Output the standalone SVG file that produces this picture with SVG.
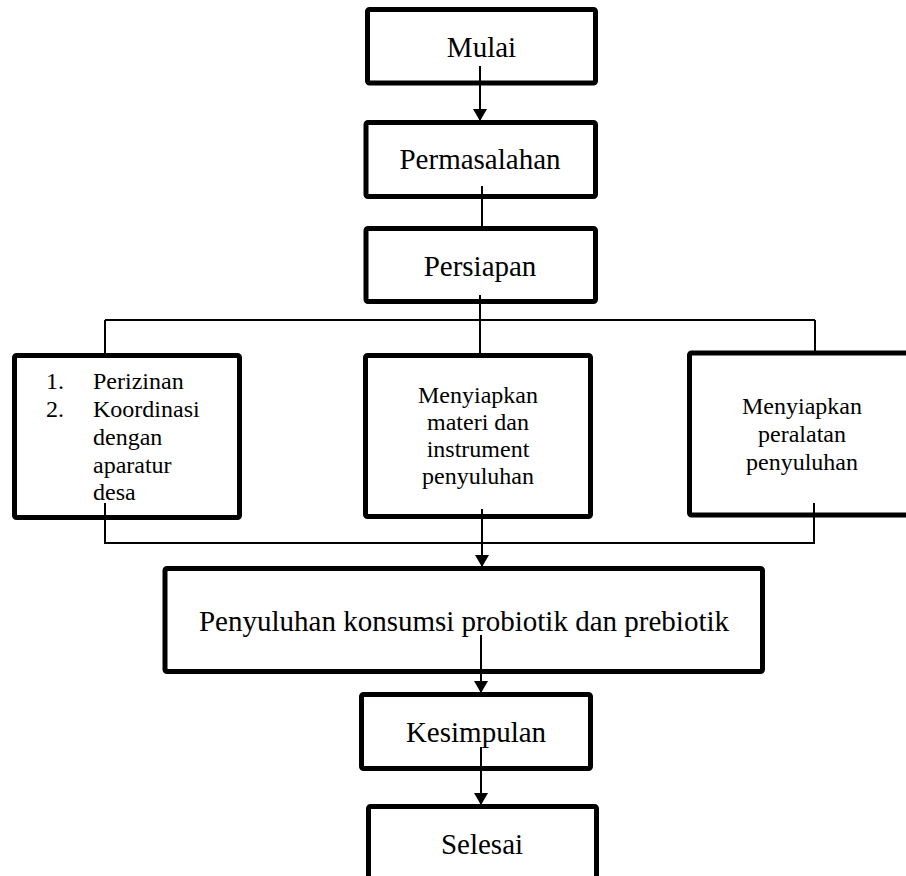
<svg xmlns="http://www.w3.org/2000/svg" width="906" height="876" viewBox="0 0 906 876">
<style>
.box{fill:#fff;stroke:#000;stroke-width:5;stroke-linejoin:round}
.lg{font-family:"Liberation Serif","Times New Roman",serif;font-size:29px;fill:#000;text-anchor:middle}
.sm{font-family:"Liberation Serif","Times New Roman",serif;font-size:24px;fill:#000}
.c{text-anchor:middle}
.conn{fill:none;stroke:#000;stroke-width:2}
</style>
<defs>
<marker id="ah" markerUnits="userSpaceOnUse" markerWidth="13" markerHeight="15" refX="12" refY="7" orient="auto">
<path d="M0,0 L12,7 L0,14 z" fill="#000"/>
</marker>
</defs>
<rect width="906" height="876" fill="#fff"/>
<g id="mulai"><rect class="box" x="367.5" y="9.5" width="228" height="73.5" rx="2"/><text class="lg" x="481.5" y="57">Mulai</text></g>
<g id="permasalahan"><rect class="box" x="366" y="122.5" width="229.5" height="74" rx="2"/><text class="lg" x="480" y="169">Permasalahan</text></g>
<g id="persiapan"><rect class="box" x="366" y="228.5" width="229.5" height="73" rx="2"/><text class="lg" x="480" y="276">Persiapan</text></g>
<g id="perizinan"><rect class="box" x="14.5" y="355.5" width="225" height="162" rx="2"/>
<text class="sm" x="46" y="389">1.</text><text class="sm" x="93" y="389">Perizinan</text>
<text class="sm" x="46" y="417">2.</text><text class="sm" x="93" y="417">Koordinasi</text>
<text class="sm" x="93" y="445">dengan</text>
<text class="sm" x="93" y="473">aparatur</text>
<text class="sm" x="93" y="500">desa</text></g>
<g id="materi"><rect class="box" x="365.5" y="355.5" width="225" height="161" rx="2"/>
<text class="sm c" x="478" y="403">Menyiapkan</text>
<text class="sm c" x="478" y="430">materi dan</text>
<text class="sm c" x="478" y="457">instrument</text>
<text class="sm c" x="478" y="484">penyuluhan</text></g>
<g id="peralatan"><rect class="box" x="689.5" y="353" width="240" height="162" rx="2"/>
<text class="sm c" x="802" y="414">Menyiapkan</text>
<text class="sm c" x="802" y="442">peralatan</text>
<text class="sm c" x="802" y="470">penyuluhan</text></g>
<g id="penyuluhan"><rect class="box" x="165" y="568.5" width="597.5" height="103" rx="2"/><text class="lg" x="464" y="631">Penyuluhan konsumsi probiotik dan prebiotik</text></g>
<g id="kesimpulan"><rect class="box" x="361.5" y="694.5" width="229" height="74" rx="2"/><text class="lg" x="476" y="742">Kesimpulan</text></g>
<g id="selesai"><rect class="box" x="368.5" y="806.5" width="228" height="100" rx="2"/><text class="lg" x="482" y="854">Selesai</text></g>
<g id="connectors">
<path class="conn" d="M480,66 V121" marker-end="url(#ah)"/>
<path class="conn" d="M482,186 V228"/>
<path class="conn" d="M480,295 V355"/>
<path class="conn" d="M105,320 H815"/>
<path class="conn" d="M105,320 V355"/>
<path class="conn" d="M815,320 V353"/>
<path class="conn" d="M105,503 V543 H814 V503"/>
<path class="conn" d="M482,509 V567" marker-end="url(#ah)"/>
<path class="conn" d="M481,635 V693" marker-end="url(#ah)"/>
<path class="conn" d="M481,747 V805" marker-end="url(#ah)"/>
</g>
</svg>
